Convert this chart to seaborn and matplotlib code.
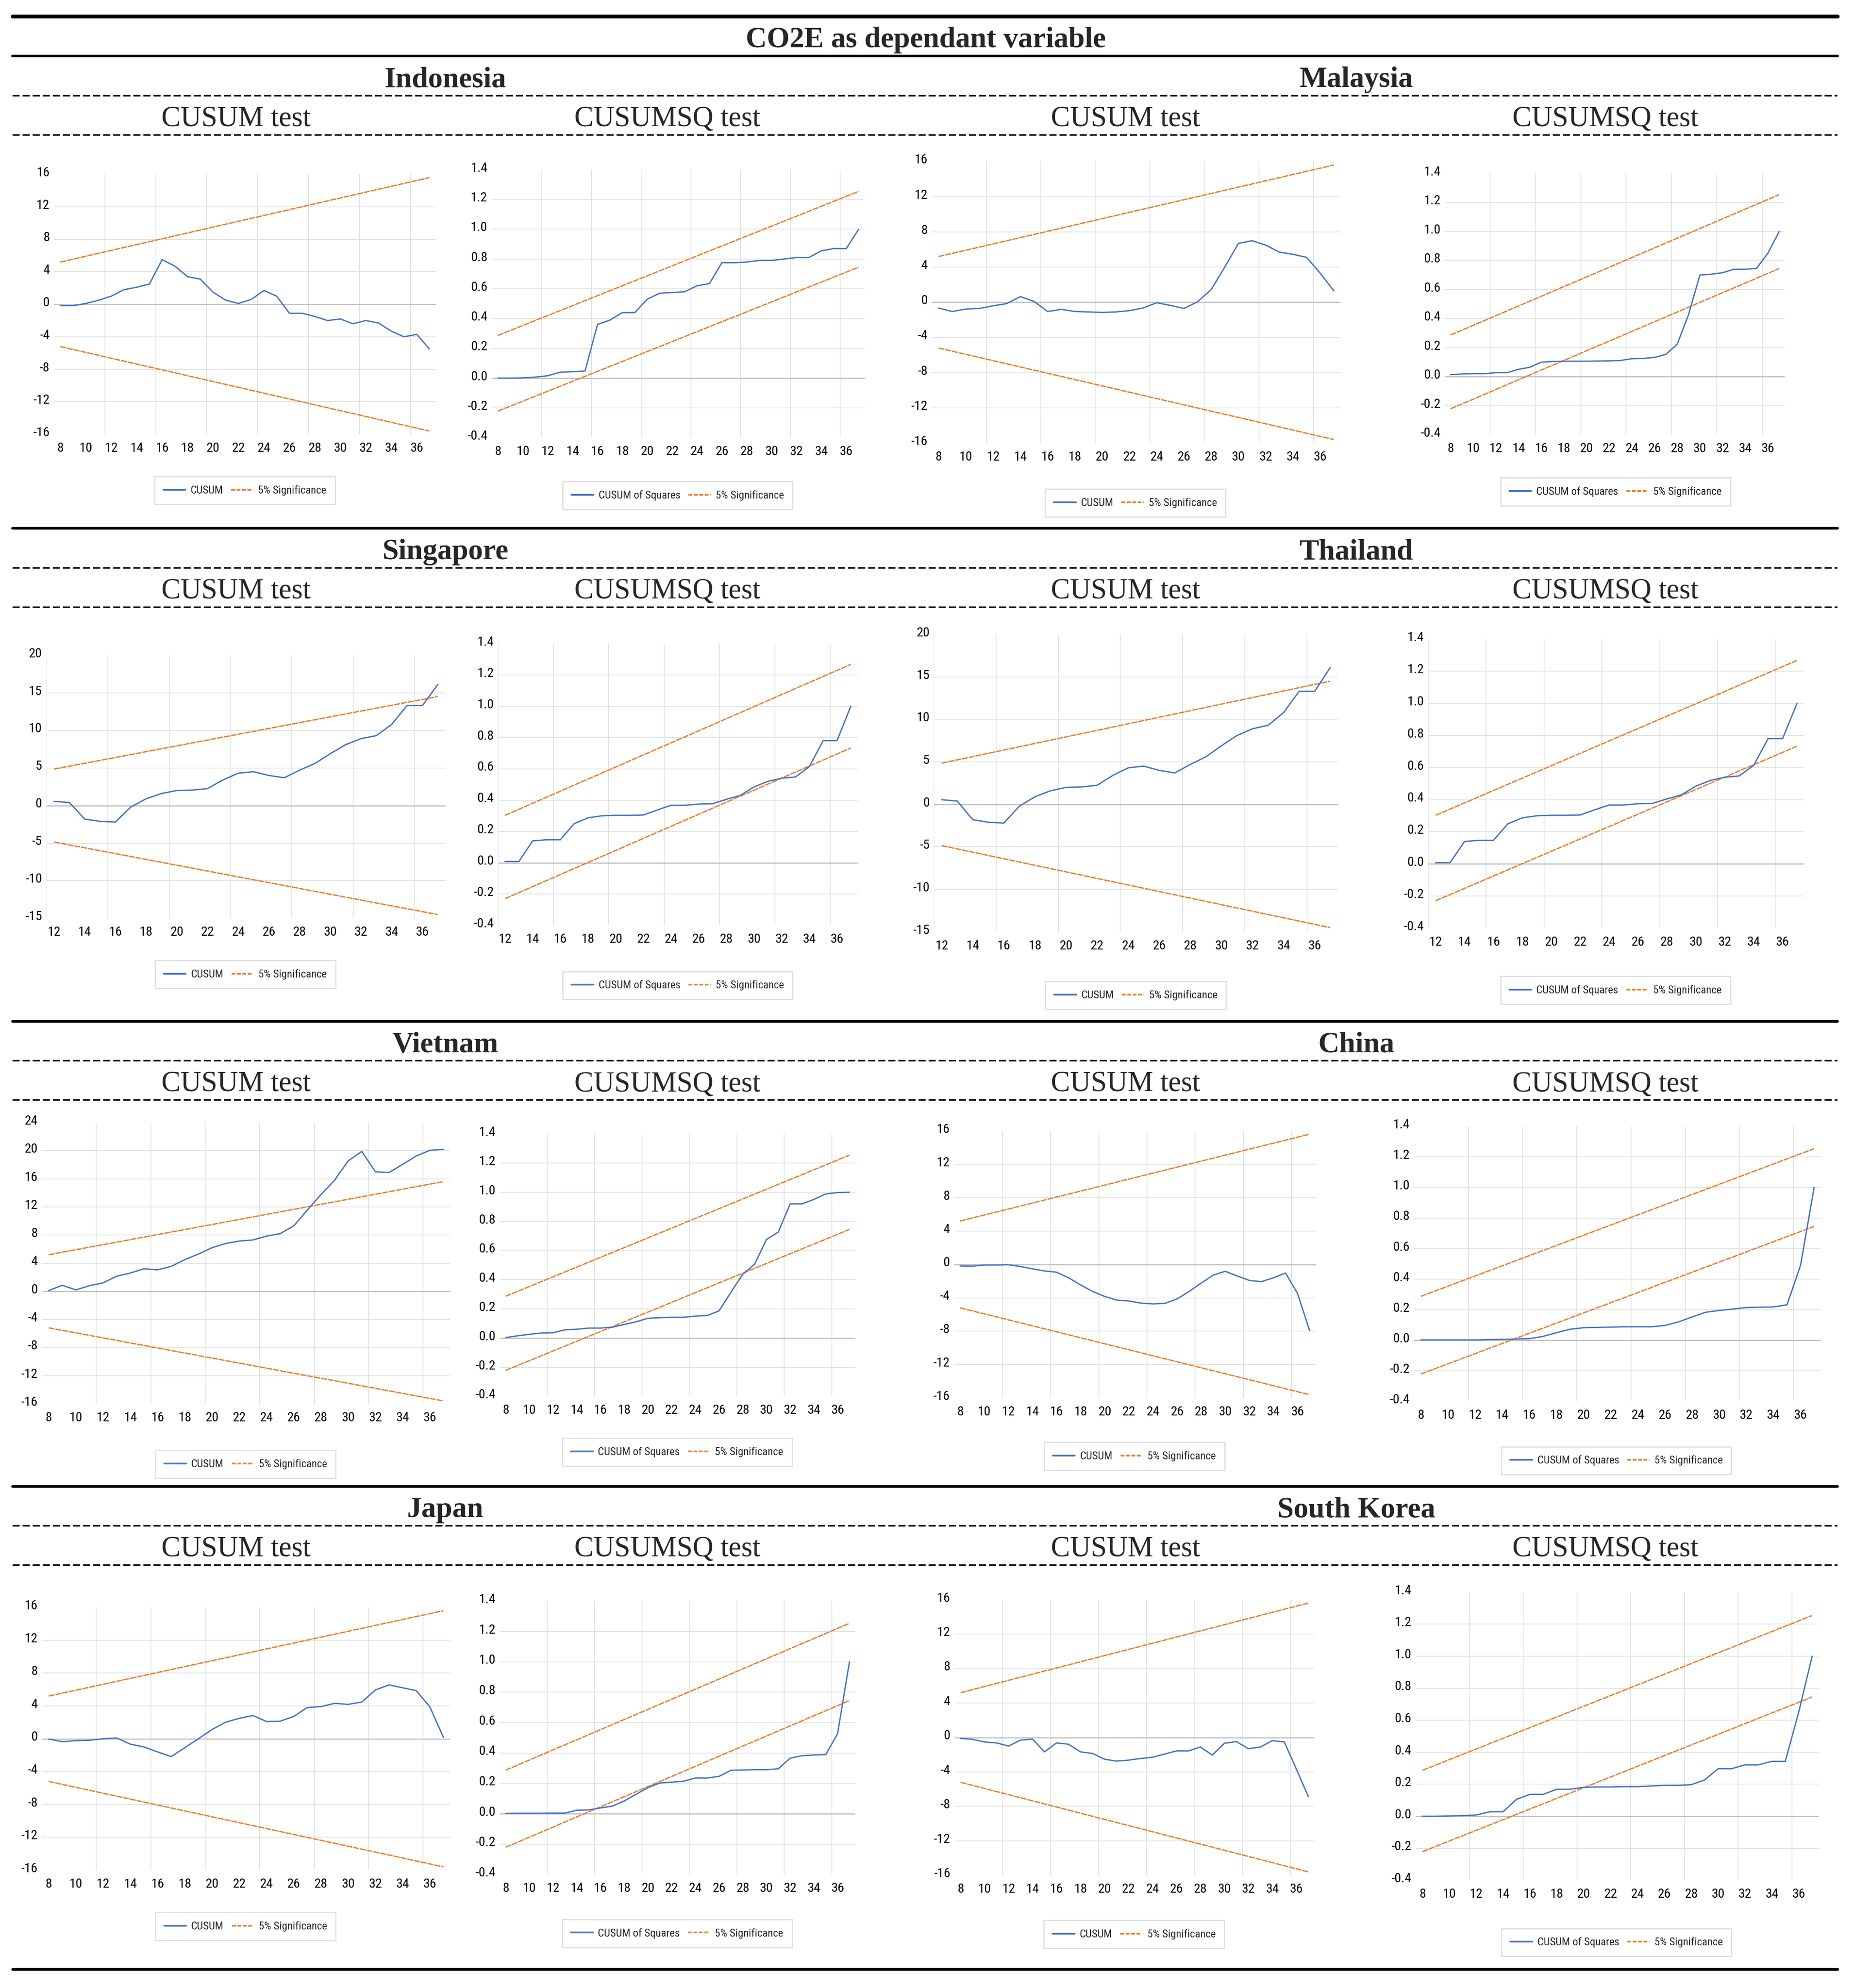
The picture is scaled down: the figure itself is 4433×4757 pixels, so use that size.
import matplotlib
matplotlib.use("Agg")
import matplotlib.pyplot as plt
import seaborn as sns
from matplotlib import font_manager
from matplotlib.lines import Line2D
from matplotlib.transforms import ScaledTranslation

# ---- data ------------------------------------------------------------------
YEARS_FULL = list(range(8, 38))
YEARS_SHORT = list(range(12, 38))

idn_cusum = [-0.17, -0.17, 0.1, 0.5, 1.0, 1.8, 2.1, 2.5, 5.5, 4.7, 3.4, 3.1, 1.5, 0.5, 0.1,
             0.6, 1.7, 1.0, -1.1, -1.1, -1.5, -2.0, -1.8, -2.4, -2.0, -2.3, -3.3, -4.0, -3.7, -5.5]
idn_cusumsq = [0.0, 0.0, 0.002, 0.007, 0.016, 0.04, 0.043, 0.048, 0.36, 0.39, 0.44, 0.44, 0.53,
               0.57, 0.575, 0.58, 0.62, 0.635, 0.775, 0.775, 0.78, 0.79, 0.79, 0.80, 0.81, 0.81,
               0.855, 0.87, 0.87, 1.0]
mys_cusum = [-0.65, -1.05, -0.77, -0.7, -0.4, -0.15, 0.65, 0.1, -1.05, -0.8, -1.05, -1.1, -1.15,
             -1.1, -0.95, -0.65, -0.05, -0.35, -0.7, 0.05, 1.45, 4.0, 6.7, 7.0, 6.5, 5.7, 5.45,
             5.1, 3.3, 1.3]
mys_cusumsq = [0.014, 0.019, 0.021, 0.021, 0.028, 0.028, 0.051, 0.065, 0.10, 0.105, 0.107, 0.107,
               0.107, 0.108, 0.109, 0.112, 0.124, 0.126, 0.133, 0.154, 0.224, 0.427, 0.70, 0.706,
               0.716, 0.74, 0.74, 0.746, 0.85, 1.0]
sgp_cusum = [0.55, 0.4, -1.8, -2.1, -2.2, -0.2, 0.9, 1.6, 2.0, 2.05, 2.25, 3.4, 4.3, 4.5, 4.0,
             3.7, 4.7, 5.6, 6.9, 8.1, 8.9, 9.3, 10.8, 13.3, 13.3, 16.1]
sgp_cusumsq = [0.008, 0.008, 0.14, 0.147, 0.147, 0.25, 0.287, 0.30, 0.303, 0.303, 0.305, 0.337,
               0.367, 0.367, 0.375, 0.377, 0.405, 0.43, 0.484, 0.52, 0.54, 0.548, 0.614, 0.78,
               0.78, 1.0]
tha_cusum = [0.55, 0.4, -1.8, -2.1, -2.2, -0.2, 0.9, 1.6, 2.0, 2.05, 2.25, 3.4, 4.3, 4.5, 4.0,
             3.7, 4.7, 5.6, 6.9, 8.1, 8.9, 9.3, 10.8, 13.3, 13.3, 16.1]
tha_cusumsq = [0.008, 0.008, 0.14, 0.147, 0.147, 0.25, 0.287, 0.30, 0.303, 0.303, 0.305, 0.337,
               0.367, 0.367, 0.375, 0.377, 0.405, 0.43, 0.484, 0.52, 0.54, 0.548, 0.614, 0.78,
               0.78, 1.0]
vnm_cusum = [0.1, 0.85, 0.2, 0.8, 1.2, 2.15, 2.6, 3.2, 3.05, 3.55, 4.5, 5.3, 6.2, 6.8, 7.15, 7.3,
             7.85, 8.2, 9.3, 11.55, 13.75, 15.8, 18.55, 19.9, 17.0, 16.9, 18.05, 19.25, 20.05, 20.2]
vnm_cusumsq = [0.004, 0.016, 0.026, 0.035, 0.037, 0.057, 0.061, 0.069, 0.069, 0.075, 0.094,
               0.112, 0.136, 0.14, 0.143, 0.143, 0.151, 0.155, 0.187, 0.314, 0.438, 0.507,
               0.676, 0.727, 0.92, 0.92, 0.951, 0.988, 0.998, 1.0]
chn_cusum = [-0.18, -0.21, -0.07, -0.07, -0.04, -0.25, -0.53, -0.78, -0.93, -1.6, -2.46, -3.24,
             -3.84, -4.27, -4.38, -4.63, -4.73, -4.66, -4.13, -3.24, -2.24, -1.28, -0.82, -1.39,
             -1.92, -2.06, -1.6, -1.03, -3.49, -7.94]
chn_cusumsq = [0.002, 0.002, 0.002, 0.002, 0.002, 0.004, 0.006, 0.008, 0.01, 0.025, 0.049, 0.072,
               0.082, 0.084, 0.086, 0.088, 0.088, 0.088, 0.097, 0.12, 0.152, 0.183, 0.195, 0.204,
               0.214, 0.216, 0.218, 0.232, 0.49, 1.0]
jpn_cusum = [-0.04, -0.35, -0.23, -0.19, 0.0, 0.1, -0.66, -1.0, -1.6, -2.17, -1.09, 0.0, 1.13,
             2.02, 2.49, 2.83, 2.1, 2.14, 2.72, 3.8, 3.92, 4.31, 4.19, 4.47, 5.94, 6.56, 6.21,
             5.86, 3.88, 0.16]
jpn_cusumsq = [0.002, 0.003, 0.003, 0.003, 0.004, 0.004, 0.023, 0.025, 0.038, 0.05, 0.084, 0.128,
               0.172, 0.202, 0.208, 0.214, 0.235, 0.235, 0.246, 0.286, 0.288, 0.29, 0.29, 0.296,
               0.366, 0.382, 0.387, 0.389, 0.527, 1.0]
kor_cusum = [-0.11, -0.22, -0.52, -0.63, -1.0, -0.3, -0.19, -1.67, -0.63, -0.78, -1.67, -1.85,
             -2.52, -2.74, -2.63, -2.44, -2.3, -1.93, -1.56, -1.56, -1.11, -2.04, -0.67, -0.48,
             -1.3, -1.11, -0.37, -0.52, -3.65, -6.85]
kor_cusumsq = [0.0, 0.0, 0.002, 0.004, 0.008, 0.028, 0.028, 0.106, 0.137, 0.137, 0.169, 0.169,
               0.181, 0.183, 0.183, 0.185, 0.185, 0.189, 0.193, 0.193, 0.197, 0.227, 0.297,
               0.297, 0.321, 0.321, 0.343, 0.343, 0.65, 1.0]

# 5% significance bounds (value at first and last observation)
band_cusum_30 = [5.2, 15.6]
band_cusum_26 = [4.85, 14.5]
band_sq_upper_30 = [0.287, 1.254]
band_sq_lower_30 = [-0.221, 0.745]
band_sq_upper_26 = [0.303, 1.267]
band_sq_lower_26 = [-0.229, 0.733]

ticks_cusum = [-16, -12, -8, -4, 0, 4, 8, 12, 16]
ticks_cusum_sgp = [-15, -10, -5, 0, 5, 10, 15, 20]
ticks_cusum_vnm = [-16, -12, -8, -4, 0, 4, 8, 12, 16, 20, 24]
ticks_sq = [-0.4, -0.2, 0.0, 0.2, 0.4, 0.6, 0.8, 1.0, 1.2, 1.4]

countries = [("Indonesia", "Malaysia"), ("Singapore", "Thailand"),
             ("Vietnam", "China"), ("Japan", "South Korea")]

# ---- styling ----------------------------------------------------------------
BLUE = "#4472C4"
ORANGE = "#ED7D31"
GRID = "#e3e3e3"
ZERO = "#bdbdbd"

sns.set_style("white")
available = {f.name for f in font_manager.fontManager.ttflist}
NARROW = next((n for n in ("Liberation Sans Narrow", "Roboto Condensed", "Open Sans Condensed")
               if n in available), "Lato")
SERIF = "Liberation Serif"
plt.rcParams["font.family"] = [NARROW, "DejaVu Sans"]
plt.rcParams["axes.unicode_minus"] = False

W_REF, H_REF = 1460.1, 1566.9  # reference layout units


def fx(x):
    return x / W_REF


def fy(y):
    return 1 - y / H_REF


fig = plt.figure(figsize=(4433 / 300, 4757 / 300), dpi=300)
fig.patch.set_facecolor("white")


def hline(y, lw, dashed=False):
    ls = (0, (4.8, 2.0)) if dashed else "-"
    fig.add_artist(Line2D([fx(10), fx(1448)], [fy(y), fy(y)], transform=fig.transFigure,
                          color="black", lw=lw, linestyle=ls))


# ---- panel layout (x0, x1, ytop, ybottom in reference units) ------------------
panels = [
    ((42.5, 343.4, 137.4, 342.3), "cusum", YEARS_FULL, idn_cusum, ticks_cusum, (193, 386.5)),
    ((387.5, 681.5, 133.7, 345.0), "sq", YEARS_FULL, idn_cusumsq, ticks_sq, (534, 390.5)),
    ((734.2, 1056.4, 127.3, 349.2), "cusum", YEARS_FULL, mys_cusum, ticks_cusum, (894.7, 396.5)),
    ((1138.5, 1406.4, 136.7, 342.7), "sq", YEARS_FULL, mys_cusumsq, ticks_sq, (1273, 387.5)),
    ((36.5, 351.0, 516.4, 723.8), "cusum", YEARS_SHORT, sgp_cusum, ticks_cusum_sgp, (193.2, 768)),
    ((392.5, 675.9, 507.2, 729.4), "sq", YEARS_SHORT, sgp_cusumsq, ticks_sq, (534, 776.7)),
    ((735.9, 1054.3, 500.0, 734.5), "cusum", YEARS_SHORT, tha_cusum, ticks_cusum_sgp, (895, 784.4)),
    ((1125.5, 1421.7, 503.7, 731.6), "sq", YEARS_SHORT, tha_cusumsq, ticks_sq, (1273, 780.4)),
    ((33.0, 354.8, 884.8, 1106.4), "cusum", YEARS_FULL, vnm_cusum, ticks_cusum_vnm, (193.5, 1154)),
    ((393.8, 674.0, 893.7, 1100.7), "sq", YEARS_FULL, vnm_cusumsq, ticks_sq, (533.6, 1144.6)),
    ((751.8, 1036.7, 891.3, 1101.9), "cusum", YEARS_FULL, chn_cusum, ticks_cusum, (893.8, 1147.8)),
    ((1114.2, 1434.8, 887.8, 1104.5), "sq", YEARS_FULL, chn_cusumsq, ticks_sq, (1273.8, 1151.2)),
    ((33.0, 354.8, 1266.9, 1474.0), "cusum", YEARS_FULL, jpn_cusum, ticks_cusum, (193.5, 1518.3)),
    ((393.8, 674.0, 1262.0, 1477.4), "sq", YEARS_FULL, jpn_cusumsq, ticks_sq, (533.6, 1523.8)),
    ((752.2, 1035.6, 1260.8, 1478.1), "cusum", YEARS_FULL, kor_cusum, ticks_cusum, (893.7, 1524.7)),
    ((1115.6, 1433.2, 1254.9, 1482.0), "sq", YEARS_FULL, kor_cusumsq, ticks_sq, (1273.8, 1531)),
]

SIG_STYLE = (0, (4.5, 0.8))

for (x0, x1, yt, yb), kind, years, values, yticks, (lcx, lcy) in panels:
    ax = fig.add_axes([fx(x0), fy(yb), fx(x1) - fx(x0), (yb - yt) / H_REF])
    ends = [years[0], years[-1]]
    short = len(years) < 30

    if kind == "cusum":
        band = band_cusum_26 if short else band_cusum_30
        sns.lineplot(x=years, y=values, ax=ax, color=BLUE, lw=0.75, zorder=3)
        sns.lineplot(x=ends, y=band, ax=ax, color=ORANGE, lw=0.75, linestyle=SIG_STYLE, zorder=2)
        sns.lineplot(x=ends, y=[-v for v in band], ax=ax, color=ORANGE, lw=0.75,
                     linestyle=SIG_STYLE, zorder=2)
        labels = ["CUSUM", "5% Significance"]
        ylabels = [f"{t:d}" for t in yticks]
    else:
        upper = band_sq_upper_26 if short else band_sq_upper_30
        lower = band_sq_lower_26 if short else band_sq_lower_30
        sns.lineplot(x=years, y=values, ax=ax, color=BLUE, lw=0.75, zorder=3)
        sns.lineplot(x=ends, y=upper, ax=ax, color=ORANGE, lw=0.75, linestyle=SIG_STYLE, zorder=2)
        sns.lineplot(x=ends, y=lower, ax=ax, color=ORANGE, lw=0.75, linestyle=SIG_STYLE, zorder=2)
        labels = ["CUSUM of Squares", "5% Significance"]
        ylabels = [f"{t:.1f}" for t in yticks]

    ax.set_xlim(years[0] - 0.5, years[-1] + 0.5)
    ax.set_ylim(yticks[0], yticks[-1])
    ax.set_xticks(years[::2])
    ax.set_xticklabels([str(y) for y in years[::2]])
    ax.set_xticks([b + 0.5 for b in range(11, 36, 4)], minor=True)
    ax.set_yticks(yticks)
    ax.set_yticklabels(ylabels)
    ax.set_xlabel("")
    ax.set_ylabel("")

    ax.grid(axis="y", which="major", color=GRID, lw=0.5)
    ax.grid(axis="x", which="minor", color=GRID, lw=0.5)
    ax.grid(axis="x", which="major", visible=False)
    grid_lines = ax.yaxis.get_gridlines()
    grid_lines[0].set_visible(False)
    grid_lines[-1].set_visible(False)
    ax.axhline(0, color=ZERO, lw=0.6, zorder=1)
    ax.set_axisbelow(True)

    for s in ax.spines.values():
        s.set_visible(False)
    ax.tick_params(axis="both", which="both", length=0, labelsize=7.7, colors="black")
    ax.tick_params(axis="x", pad=4.5)
    ax.tick_params(axis="y", pad=2.5)
    lift = ScaledTranslation(0, 1.6 / 72, fig.dpi_scale_trans)
    for lbl in ax.get_yticklabels():
        lbl.set_transform(lbl.get_transform() + lift)

    handles = [Line2D([], [], color=BLUE, lw=1.0),
               Line2D([], [], color=ORANGE, lw=1.0, linestyle=(0, (2.2, 0.9)))]
    leg = ax.legend(handles, labels, loc="center", bbox_to_anchor=(fx(lcx), fy(lcy)),
                    bbox_transform=fig.transFigure, ncol=2, frameon=True, fancybox=False,
                    edgecolor="#d9d9d9", fontsize=6.3, handlelength=2.0, handletextpad=0.45,
                    columnspacing=0.75, borderpad=0.8)
    leg.get_frame().set_linewidth(0.7)

# ---- header text and rules --------------------------------------------------
hline(12.8, 2.2)
fig.text(fx(729.5), fy(37.3), "CO2E as dependant variable", family=SERIF, fontsize=16.8,
         fontweight="bold", ha="center", va="baseline")

row_tops = [44.3, 416.5, 805.0, 1171.5]
for top, (left_name, right_name) in zip(row_tops, countries):
    hline(top, 1.5)
    fig.text(fx(350.8), fy(top + 24.3), left_name, family=SERIF, fontsize=16.8,
             fontweight="bold", ha="center", va="baseline")
    fig.text(fx(1068.9), fy(top + 24.3), right_name, family=SERIF, fontsize=16.8,
             fontweight="bold", ha="center", va="baseline")
    hline(top + 31.0, 0.85, dashed=True)
    for cx, sub in ((185.9, "CUSUM test"), (526.0, "CUSUMSQ test"),
                    (886.9, "CUSUM test"), (1264.9, "CUSUMSQ test")):
        fig.text(fx(cx), fy(top + 55.3), sub, family=SERIF, fontsize=16.5,
                 ha="center", va="baseline")
    hline(top + 62.0, 0.85, dashed=True)
hline(1552.0, 1.6)

fig.savefig("out.png", dpi=300, facecolor="white")
